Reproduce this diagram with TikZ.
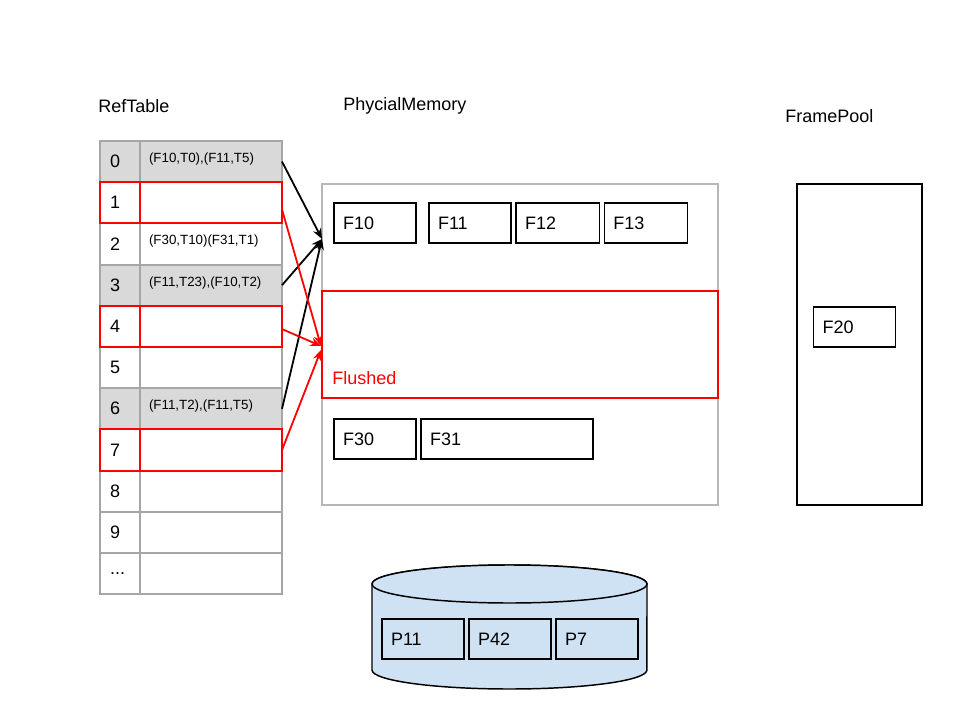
\documentclass[tikz,border=0pt]{standalone}
\usepackage{fontspec}
\setmainfont{Liberation Sans}
\usetikzlibrary{positioning,arrows.meta}
\definecolor{cellgray}{HTML}{D9D9D9}
\definecolor{linegray}{HTML}{A6A6A6}
\definecolor{boxgray}{HTML}{B7B7B7}
\definecolor{diskblue}{HTML}{CFE2F3}

\begin{document}
\begin{tikzpicture}[x=0.75pt, y=-0.75pt, font=\fontsize{13.5}{16}\selectfont,
  title/.style={anchor=west, inner sep=0pt},
  idx/.style={draw=linegray, line width=1.5pt, outer sep=0pt, minimum width=30pt, minimum height=30.9pt, inner xsep=7.5pt, text width=15pt, align=left},
  ent/.style={draw=linegray, line width=1.5pt, outer sep=0pt, minimum width=106.5pt, minimum height=30.9pt, inner xsep=6.75pt, text width=93pt, align=left, text depth=6pt, font=\fontsize{10}{12}\selectfont},
  busy/.style={fill=cellgray}, plain/.style={fill=white},
  membox/.style={draw=boxgray, line width=1.5pt, minimum width=297pt, minimum height=240.75pt},
  flushbox/.style={draw=red, line width=1.1pt, minimum width=297pt, minimum height=80.25pt},
  poolbox/.style={draw, line width=1.1pt, minimum width=93.75pt, minimum height=240.75pt},
  frame/.style={draw, line width=1.1pt, outer sep=0pt, minimum height=30pt, inner xsep=6.75pt, text width=#1, align=left},
  frame/.default=48pt,
  disk/.style={draw, line width=1.1pt, fill=diskblue},
  arr/.style={-{Stealth[length=8pt, width=6.5pt]}, line width=1.35pt}]
\useasboundingbox[fill=white] (0,0) rectangle (960,720);
\node[title] (reftitle) at (98,106) {RefTable};
\foreach \i/\txt/\st in {0/{(F10,T0),(F11,T5)}/busy, 1//plain, 2/{(F30,T10)(F31,T1)}/plain, 3/{(F11,T23),(F10,T2)}/busy, 4//plain, 5//plain, 6/{(F11,T2),(F11,T5)}/busy, 7//plain, 8//plain, 9//plain, 10//plain}{
  \node[idx, \st] (idx\i) at (120,{141+41.2*(\i+0.5)}) {\ifnum\i=10 ...\else\i\fi};
  \node[ent, \st, right=0pt of idx\i] (ent\i) {\txt};
}
\foreach \i in {1,4,7}
  \draw[red, line width=1.5pt] (idx\i.north west) rectangle (idx\i.south east) (ent\i.north west) rectangle (ent\i.south east);

\node[title] (memtitle) at (343,106) {PhycialMemory};
\node[membox] (mem) at (520,344.5) {};
\node[frame] (f10) at (375,223) {F10};
\node[frame, right=9.75pt of f10] (f11) {F11};
\node[frame=49pt, right=3.75pt of f11] (f12) {F12};
\node[frame=49pt, right=3.75pt of f12] (f13) {F13};
\node[flushbox] (flush) at (520,344.5) {};
\node[title, red] (flushtxt) at (332,378) {Flushed};
\node[frame] (f30) at (375,439) {F30};
\node[frame=115.5pt, right=3.75pt of f30] (f31) {F31};

\node[title] (pooltitle) at (785,116) {FramePool};
\node[poolbox] (pool) at (859.5,344.5) {};
\node[frame] (f20) at (854.5,327) {F20};

\draw[disk] (372,584) -- (372,670) arc[start angle=180, end angle=360, x radius=103.1pt, y radius=14.25pt] -- (647,584) arc[start angle=0, end angle=180, x radius=103.1pt, y radius=14.25pt] -- cycle;
\draw[disk] (509.5,584) ellipse [x radius=103.1pt, y radius=14.25pt];
\node[frame] (p11) at (423,639) {P11};
\node[frame, right=3.75pt of p11] (p42) {P42};
\node[frame, right=3.75pt of p42] (p7) {P7};

\coordinate (hitmem) at (322,239);
\coordinate (hitflush) at (321,346);
\draw[arr] (ent0.east)--(hitmem); \draw[arr] (ent3.east)--(hitmem); \draw[arr] (ent6.east)--(hitmem);
\draw[arr, red] ([yshift=-5pt]ent1.east)--(hitflush); \draw[arr, red] ([yshift=-2pt]ent4.east)--(hitflush); \draw[arr, red] (ent7.east)--([yshift=-3pt]hitflush);
\end{tikzpicture}
\end{document}
